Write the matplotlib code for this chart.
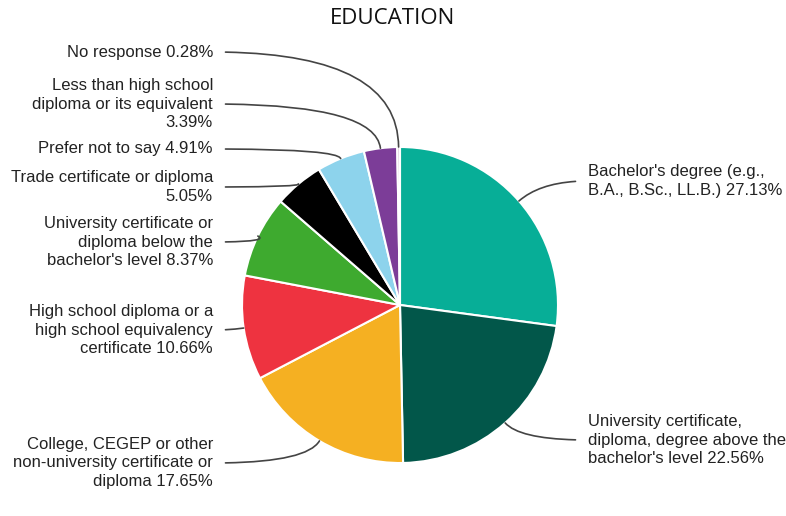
import numpy as np
import matplotlib
matplotlib.use("Agg")
import matplotlib.pyplot as plt

# data, clockwise from 12 o'clock
labels = [
    "Bachelor's degree (e.g.,\nB.A., B.Sc., LL.B.) 27.13%",
    "University certificate,\ndiploma, degree above the\nbachelor's level 22.56%",
    "College, CEGEP or other\nnon-university certificate or\ndiploma 17.65%",
    "High school diploma or a\nhigh school equivalency\ncertificate 10.66%",
    "University certificate or\ndiploma below the\nbachelor's level 8.37%",
    "Trade certificate or diploma\n5.05%",
    "Prefer not to say 4.91%",
    "Less than high school\ndiploma or its equivalent\n3.39%",
    "No response 0.28%",
]
values = [27.13, 22.56, 17.65, 10.66, 8.37, 5.05, 4.91, 3.39, 0.28]
colors = ['#07ae97', '#02574a', '#f5b022', '#ee3340', '#3eaa2f',
          '#000000', '#8dd3ec', '#7c3d98', '#d9c8d4']

W, H = 786, 516
fig = plt.figure(figsize=(W / 100, H / 100), dpi=100)
ax = fig.add_axes([0, 0, 1, 1])
ax.set_aspect('equal')
ax.axis('off')

cx, cy, r = 400, H - 305, 158
wedges, _ = ax.pie(values, colors=colors, startangle=90, counterclock=False,
                   center=(cx, cy), radius=r,
                   wedgeprops=dict(edgecolor='white', linewidth=1.5))
ax.set_xlim(0, W)
ax.set_ylim(0, H)

# text anchor (pixel x, pixel y of block middle) and side
text_pos = [
    (588, 181, 'left'),
    (588, 440, 'left'),
    (213, 463, 'right'),
    (213, 330, 'right'),
    (213, 242, 'right'),
    (213, 187, 'right'),
    (213, 149, 'right'),
    (213, 104, 'right'),
    (213, 52, 'right'),
]

for w, lab, (tx, ty, side) in zip(wedges, labels, text_pos):
    mid = np.deg2rad((w.theta1 + w.theta2) / 2)
    px = cx + r * np.cos(mid)
    py = cy + r * np.sin(mid)
    ang = np.rad2deg(mid)
    ax.annotate(lab, xy=(px, py), xytext=(tx, H - ty),
                ha=side, va='center', fontsize=12, color='#222222',
                family=['Liberation Sans', 'DejaVu Sans'], linespacing=1.3,
                arrowprops=dict(arrowstyle='-', color='#444444', lw=1.2,
                                shrinkA=7, shrinkB=0,
                                relpos=(0, 0.5) if side == 'left' else (1, 0.5),
                                connectionstyle='angle3,angleA=0,angleB=%.1f' % ang))

fig.text(0.5, 1 - 18 / H, 'EDUCATION', ha='center', va='center',
         fontsize=16, family='Open Sans', color='#111111')

fig.savefig('out.png', dpi=100)
